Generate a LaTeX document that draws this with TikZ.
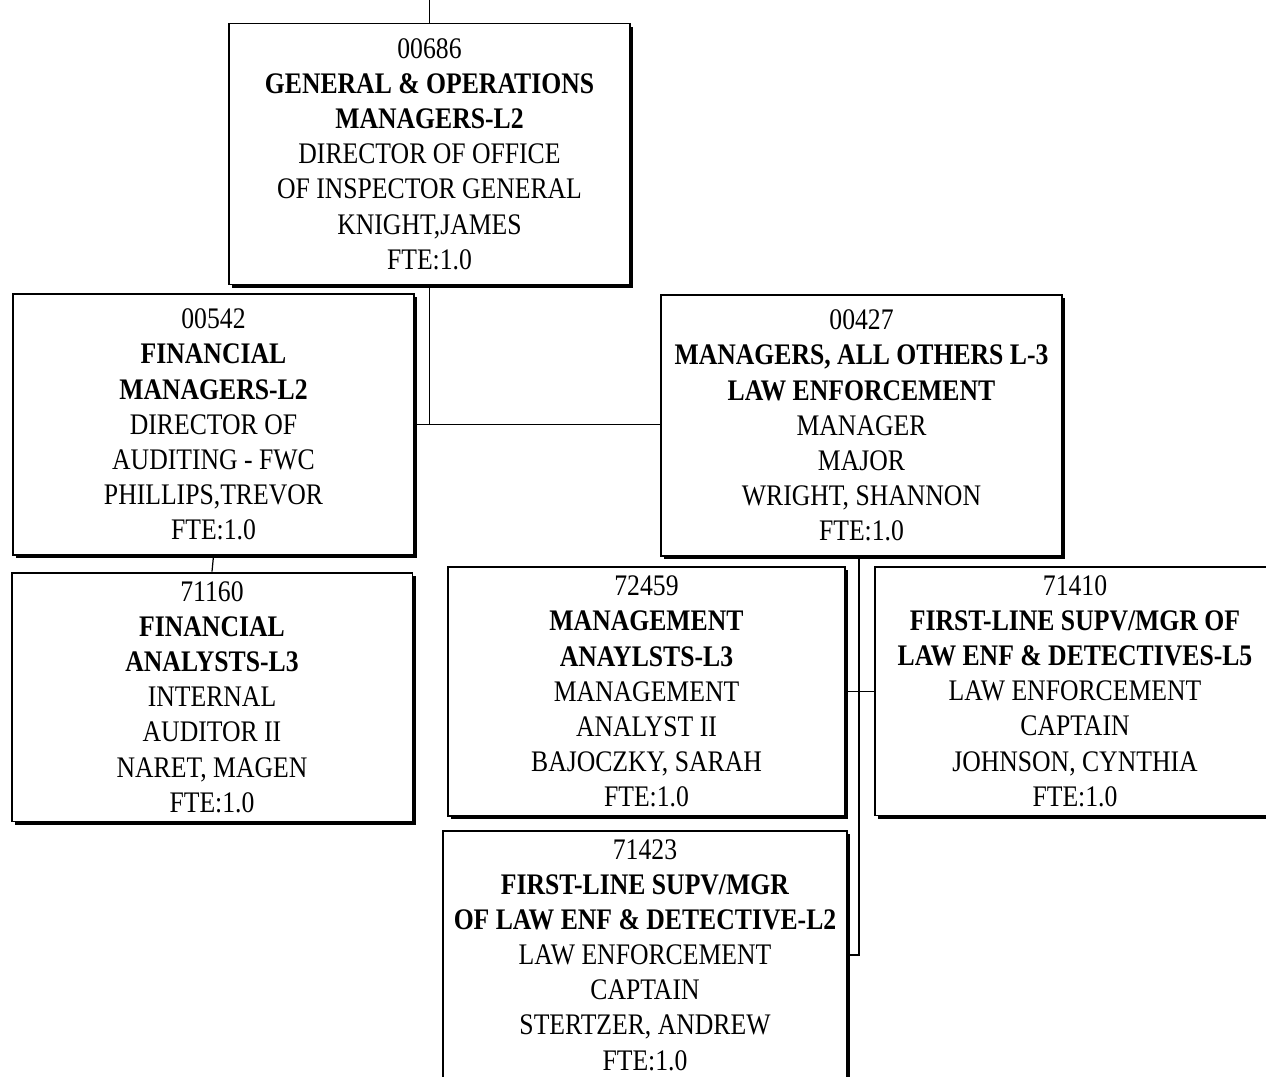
\documentclass[tikz,border=0pt]{standalone}
\usepackage{fontspec}
\setmainfont[FakeStretch=0.86]{Liberation Serif}
\usetikzlibrary{positioning,shadows}
\tikzset{
  post/.style={draw=black,line width=1.1pt,fill=white,align=center,inner sep=0pt,minimum width=8.02cm,minimum height=5.22cm,font=\fontsize{17}{20}\selectfont,drop shadow={shadow xshift=1.8pt,shadow yshift=-1.8pt,fill=black,opacity=1}},
  subpost/.style={post,minimum height=4.98cm},
  link/.style={line width=.7pt},
}

\begin{document}
\begin{tikzpicture}[x=0.02cm,y=-0.02cm]
    \clip (0,0) rectangle (1266,1076);
    \node[post] (dir) at (429.5,154) {00686\\\textbf{GENERAL \& OPERATIONS}\\\textbf{MANAGERS-L2}\\DIRECTOR OF OFFICE\\OF INSPECTOR GENERAL\\KNIGHT,JAMES\\FTE:1.0};
    \node[post] (fin) at (213.5,424.5) {00542\\\textbf{FINANCIAL}\\\textbf{MANAGERS-L2}\\DIRECTOR OF\\AUDITING - FWC\\PHILLIPS,TREVOR\\FTE:1.0};
    \node[post] (law) at (861.5,425.5) {00427\\\textbf{MANAGERS, ALL OTHERS L-3}\\\textbf{LAW ENFORCEMENT}\\MANAGER\\MAJOR\\WRIGHT, SHANNON\\FTE:1.0};
    \node[subpost] (aud) at (212,697) {71160\\\textbf{FINANCIAL}\\\textbf{ANALYSTS-L3}\\INTERNAL\\AUDITOR II\\NARET, MAGEN\\FTE:1.0};
    \node[subpost,minimum width=7.94cm] (mgmt) at (646.5,691.5) {72459\\\textbf{MANAGEMENT}\\\textbf{ANAYLSTS-L3}\\MANAGEMENT\\ANALYST II\\BAJOCZKY, SARAH\\FTE:1.0};
    \node[subpost] (capt5) at (1075,691) {71410\\\textbf{FIRST-LINE SUPV/MGR OF}\\\textbf{LAW ENF \& DETECTIVES-L5}\\LAW ENFORCEMENT\\CAPTAIN\\JOHNSON, CYNTHIA\\FTE:1.0};
    \node[subpost,minimum width=8.08cm] (capt2) at (645,955) {71423\\\textbf{FIRST-LINE SUPV/MGR}\\\textbf{OF LAW ENF \& DETECTIVE-L2}\\LAW ENFORCEMENT\\CAPTAIN\\STERTZER, ANDREW\\FTE:1.0};
    \coordinate (up) at (429.5,0);
    \coordinate (trunk) at (859,556);
    % connectors
    \draw[link] (dir.north)--(up);
    \draw[link] (dir.south)--(dir.south |- fin.east);
    \draw[link] (fin.east)--(fin.east -| law.west);
    \draw[link] (fin.south)--(aud.north);
    \draw[link] (trunk)--(trunk |- capt2.east)--(capt2.east);
    \draw[link] (mgmt.east)--(mgmt.east -| capt5.west);
  \end{tikzpicture}
\end{document}
